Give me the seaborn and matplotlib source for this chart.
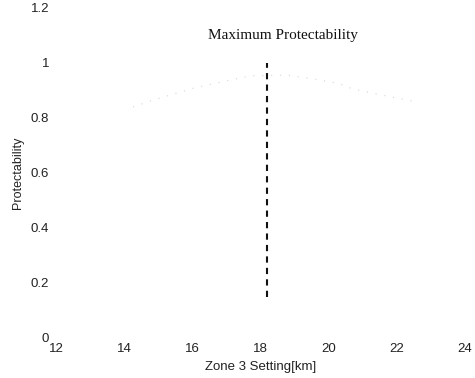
import matplotlib
matplotlib.use("Agg")
import matplotlib.pyplot as plt
import seaborn as sns
import pandas as pd

# Protectability versus Zone 3 reach setting
zone3_km = [14.26, 14.85, 16.08, 17.69, 18.77, 19.65, 20.33, 20.6, 20.9, 21.4, 22.6]
protectability = [0.84, 0.865, 0.91, 0.953, 0.956, 0.94, 0.924, 0.91, 0.90, 0.887, 0.858]

# Setting giving the maximum protectability
best_setting = [18.2]
marker_low = [0.15]
marker_high = [1.0]

x_ticks = [12, 14, 16, 18, 20, 22, 24]
y_ticks = [0, 0.2, 0.4, 0.6, 0.8, 1.0, 1.2]
y_tick_labels = ["0", "0.2", "0.4", "0.6", "0.8", "1", "1.2"]

sns.set_theme(style="white")
plt.rcParams["font.family"] = ["Liberation Sans", "DejaVu Sans"]

fig = plt.figure(figsize=(4.75, 3.78), dpi=100)
ax = fig.add_axes([0.118, 0.106, 0.861, 0.873])

df = pd.DataFrame({"zone3": zone3_km, "prot": protectability})
sns.lineplot(data=df, x="zone3", y="prot", ax=ax, color="#d6d6d6",
             linewidth=0.8, linestyle=(0, (1, 7)), estimator=None, sort=False)

ax.vlines(best_setting, marker_low, marker_high, colors="#111111",
          linestyles=(0, (3.0, 2.5)), linewidth=1.5)

ax.text(18.66, 1.1, "Maximum Protectability", ha="center", va="center",
        fontsize=11, family=["Liberation Serif", "DejaVu Serif"], color="#111111")

ax.set_xlim(12, 24)
ax.set_ylim(0, 1.2)
ax.set_xticks(x_ticks)
ax.set_yticks(y_ticks)
ax.set_yticklabels(y_tick_labels)
ax.tick_params(axis="both", labelsize=9.5, colors="#222222", length=0)
ax.tick_params(axis="y", pad=5)
ax.tick_params(axis="x", pad=4)
ax.set_xlabel("Zone 3 Setting[km]", fontsize=9.5, color="#222222", labelpad=4)
ax.set_ylabel("Protectability", fontsize=9, color="#222222", labelpad=5)

for side in ["top", "right", "bottom", "left"]:
    ax.spines[side].set_visible(False)

fig.savefig("out.png", dpi=100, facecolor="white")
